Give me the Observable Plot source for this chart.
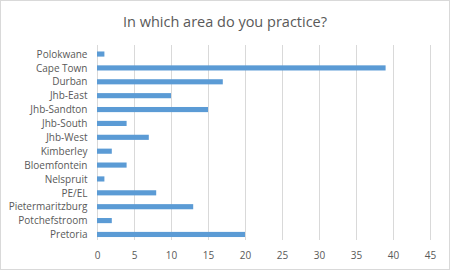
<!DOCTYPE html>
<html>
<head>
<meta charset="utf-8">
<script src="https://cdn.jsdelivr.net/npm/d3@7"></script>
<script src="https://cdn.jsdelivr.net/npm/@observablehq/plot@0.6"></script>
<style>
  html, body { margin: 0; padding: 0; background: #fff; }
  #chart { width: 448px; height: 268px; border: 1px solid #d9d9d9; position: relative; background: #fff; font-family: "Open Sans", sans-serif; }
  #title { height: 38px; line-height: 42px; text-align: center; font-size: 14.5px; color: #595959; }
  svg { display: block; }
</style>
</head>
<body>
<div id="chart"><div id="title">In which area do you practice?</div></div>
<script>
const categories = ["Polokwane","Cape Town","Durban","Jhb-East","Jhb-Sandton","Jhb-South","Jhb-West","Kimberley","Bloemfontein","Nelspruit","PE/EL","Pietermaritzburg","Potchefstroom","Pretoria"];
const values = [1,39,17,10,15,4,7,2,4,1,8,13,2,20];
const xTicks = [0,5,10,15,20,25,30,35,40,45];

const data = categories.map((c, i) => ({area: c, count: values[i]}));

const plot = Plot.plot({
  width: 448,
  height: 230,
  marginLeft: 96,
  marginRight: 19,
  marginTop: 6,
  marginBottom: 29,
  style: {fontFamily: "Open Sans, sans-serif", fontSize: "10px", color: "#595959", background: "#fff"},
  x: {domain: [0, 45], ticks: xTicks, tickSize: 0, tickPadding: 11, label: null},
  y: {domain: categories, range: [8.1, 202.4], round: false, paddingInner: 0.63, paddingOuter: 0.315, tickSize: 0, tickPadding: 10, label: null},
  marks: [
    Plot.ruleX(xTicks, {stroke: "#d9d9d9", strokeWidth: 1}),
    Plot.barX(data, {x: "count", y: "area", fill: "#5b9bd5"})
  ]
});
document.getElementById("chart").appendChild(plot);
</script>
</body>
</html>
